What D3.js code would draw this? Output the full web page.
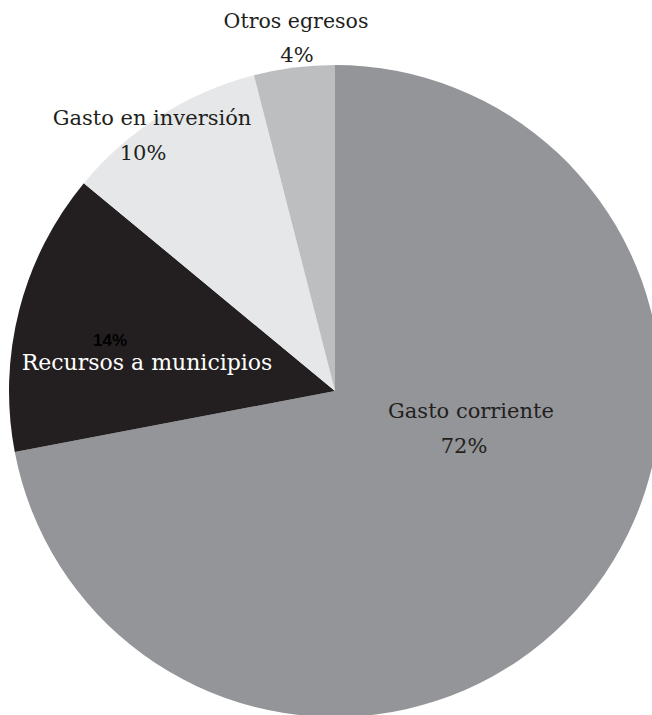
<!DOCTYPE html>
<html>
<head>
<meta charset="utf-8">
<script src="https://cdn.jsdelivr.net/npm/d3@7"></script>
<style>
  html, body { margin: 0; padding: 0; background: #fff; overflow: hidden; }
  svg { display: block; }
  .serif { font-family: "DejaVu Serif", serif; }
  .sans { font-family: "Liberation Sans", Arial, Helvetica, sans-serif; font-weight: bold; }
</style>
</head>
<body>
<svg id="chart" width="652" height="715"></svg>
<script>
// ---- data ----
const categories = ["Gasto corriente", "Recursos a municipios", "Gasto en inversión", "Otros egresos"];
const values = [72, 14, 10, 4];
const pctLabels = ["72%", "14%", "10%", "4%"];
const colors = ["#939598", "#231f20", "#e6e7e8", "#bcbec0"];

// ---- layout ----
const W = 652, H = 715;
const cx = 335, cy = 391, R = 326;
// label anchor offsets relative to the pie centre
const labelLayout = [
  {nx: 136, ny: 27, px: 129, py: 62, fs: 21, pfs: 21, nameColor: "#231f20", pctColor: "#231f20", pctFont: "serif"},
  {nx: -188, ny: -21, px: -225, py: -45, fs: 22, pfs: 17, nameColor: "#ffffff", pctColor: "#000000", pctFont: "sans"},
  {nx: -183, ny: -266, px: -192, py: -231, fs: 21, pfs: 21, nameColor: "#231f20", pctColor: "#231f20", pctFont: "serif"},
  {nx: -39, ny: -363, px: -38, py: -329, fs: 20.5, pfs: 21, nameColor: "#231f20", pctColor: "#231f20", pctFont: "serif"}
];

const svg = d3.select("#chart");
const g = svg.append("g").attr("transform", `translate(${cx},${cy})`);

const pie = d3.pie().value(d => d.v).sort(null);
const arc = d3.arc().innerRadius(0).outerRadius(R);
const data = categories.map((c, i) => ({name: c, v: values[i], pct: pctLabels[i], color: colors[i], lay: labelLayout[i]}));

g.selectAll("path.slice")
  .data(pie(data))
  .join("path")
  .attr("class", "slice")
  .attr("d", arc)
  .attr("fill", d => d.data.color);

const labels = g.selectAll("g.lbl").data(data).join("g").attr("class", "lbl");
labels.append("text")
  .attr("class", "serif")
  .attr("x", d => d.lay.nx).attr("y", d => d.lay.ny)
  .attr("text-anchor", "middle")
  .style("font-size", d => d.lay.fs + "px")
  .attr("fill", d => d.lay.nameColor)
  .text(d => d.name);
labels.append("text")
  .attr("class", d => d.lay.pctFont)
  .attr("x", d => d.lay.px).attr("y", d => d.lay.py)
  .attr("text-anchor", "middle")
  .style("font-size", d => d.lay.pfs + "px")
  .attr("fill", d => d.lay.pctColor)
  .text(d => d.pct);
</script>
</body>
</html>
